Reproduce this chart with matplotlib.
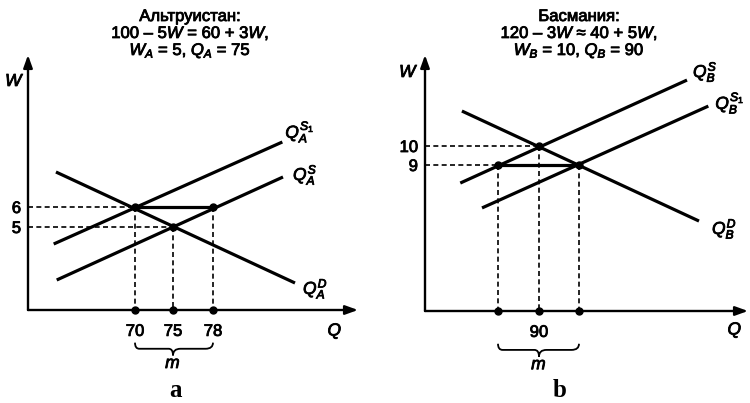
import numpy as np
import matplotlib
matplotlib.use("Agg")
import matplotlib.pyplot as plt
import matplotlib.patheffects as pe
from matplotlib.path import Path
from matplotlib.patches import PathPatch

plt.rcParams['font.family'] = ['Liberation Sans', 'DejaVu Sans']
plt.rcParams['mathtext.fontset'] = 'custom'
plt.rcParams['mathtext.it'] = 'Liberation Sans:italic'
plt.rcParams['mathtext.rm'] = 'Liberation Sans'
plt.rcParams['mathtext.bf'] = 'Liberation Sans:bold'

# ---------------- data ----------------
a_title = ["Альтруистан:", "100 – 5$W$ = 60 + 3$W$,", "$W_A$ = 5, $Q_A$ = 75"]
b_title = ["Басмания:", "120 – 3$W$ ≈ 40 + 5$W$,", "$W_B$ = 10, $Q_B$ = 90"]

a_q_ticks = [70, 75, 78]
a_q_labels = ["70", "75", "78"]
a_w_ticks = [5, 6]
a_w_labels = ["5", "6"]
a_pts_q = [70, 75, 78]
a_pts_w = [6, 5, 6]

b_q_ticks = [85, 90, 93]
b_q_labels = ["", "90", ""]
b_w_ticks = [9, 10]
b_w_labels = ["9", "10"]
b_pts_q = [85, 90, 93]
b_pts_w = [9, 10, 9]

# curve end points (Q, W) read from the schematic
a_dem_q = [59.6, 84.15];  a_dem_w = [7.75, 2.2]
a_s1_q = [59.3, 83.2];    a_s1_w = [4.15, 9.25]
a_s_q = [59.7, 83.25];    a_s_w = [2.35, 7.5]

b_dem_q = [80.6, 102.0];  b_dem_w = [11.84, 6.05]
b_s_q = [80.4, 101.1];    b_s_w = [8.05, 13.47]
b_s1_q = [83.05, 102.7];  b_s1_w = [6.74, 12.1]

a_curve_labels = [r"$Q_A^{S_1}$", r"$Q_A^{S}$", r"$Q_A^{D}$"]
b_curve_labels = [r"$Q_B^{S}$", r"$Q_B^{S_1}$", r"$Q_B^{D}$"]

# ---------------- figure ----------------
W_PX, H_PX = 750, 403
fig = plt.figure(figsize=(7.5, 4.03), dpi=100)
BOLDISH = [pe.withStroke(linewidth=0.6, foreground='black')]


def fx(x):
    return x / W_PX


def fy(y):
    return 1 - y / H_PX


def pw_scale(qk, uk):
    qk = np.asarray(qk, float)
    uk = np.asarray(uk, float)
    sl = (uk[1] - uk[0]) / (qk[1] - qk[0])
    sr = (uk[-1] - uk[-2]) / (qk[-1] - qk[-2])

    def fwd(q):
        q = np.asarray(q, float)
        u = np.interp(q, qk, uk)
        u = np.where(q < qk[0], uk[0] + (q - qk[0]) * sl, u)
        u = np.where(q > qk[-1], uk[-1] + (q - qk[-1]) * sr, u)
        return u

    def inv(u):
        u = np.asarray(u, float)
        q = np.interp(u, uk, qk)
        q = np.where(u < uk[0], qk[0] + (u - uk[0]) / sl, q)
        q = np.where(u > uk[-1], qk[-1] + (u - uk[-1]) / sr, q)
        return q

    return fwd, inv


LW = 2.3
DASH = (0, (3.0, 2.0))


def panel(rect_px, knots_px, w_px, q_ticks, q_labels, w_ticks, w_labels,
          pts_q, pts_w, curves, curve_labels, label_offsets,
          dashed_h, dashed_v, solid_seg, brace, m_q):
    x0, y_top, x1, y_bot = rect_px
    ax = fig.add_axes([fx(x0), fy(y_bot), (x1 - x0) / W_PX, (y_bot - y_top) / H_PX])
    fwd, inv = pw_scale(q_ticks, knots_px)
    ax.set_xscale('function', functions=(fwd, inv))
    ax.set_xlim(float(inv(x0)), float(inv(x1)))
    (wa, ya), (wb, yb) = w_px
    k = (wa - wb) / (ya - yb)
    ax.set_ylim(wa + (y_bot - ya) * k, wa + (y_top - ya) * k)
    ax.patch.set_alpha(0)
    for s in ax.spines.values():
        s.set_visible(False)
    ymin = ax.get_ylim()[0]
    xmin = ax.get_xlim()[0]

    # axes with arrows
    ap = dict(arrowstyle='-|>,head_length=0.75,head_width=0.27', lw=1.7,
              color='k', shrinkA=0, shrinkB=0, mutation_scale=10)
    ax.annotate('', xy=(1, 0), xytext=(0, 0), xycoords='axes fraction',
                arrowprops=ap, annotation_clip=False)
    ax.annotate('', xy=(0, 1), xytext=(0, 0), xycoords='axes fraction',
                arrowprops=ap, annotation_clip=False)

    # curves
    for (cq, cw), lab, off in zip(curves, curve_labels, label_offsets):
        ax.plot(cq, cw, color='k', lw=LW, solid_capstyle='butt', clip_on=False)
        ax.annotate(lab, xy=(cq[-1], cw[-1]), xytext=off, textcoords='offset pixels',
                    ha='left', va='center', fontsize=12.5, annotation_clip=False,
                    path_effects=BOLDISH)

    # dashed guides
    for i in dashed_h:
        ax.plot([xmin, pts_q[i]], [pts_w[i], pts_w[i]], color='k', lw=1.2, ls=DASH, clip_on=False)
    for i in dashed_v:
        ax.plot([pts_q[i], pts_q[i]], [pts_w[i], ymin], color='k', lw=1.2, ls=DASH, clip_on=False)
    i, j = solid_seg
    ax.plot([pts_q[i], pts_q[j]], [pts_w[i], pts_w[j]], color='k', lw=LW, clip_on=False)

    # points
    ax.plot(pts_q, pts_w, 'o', color='k', ms=5, clip_on=False, zorder=5)
    ax.plot(pts_q, [ymin] * len(pts_q), 'o', color='k', ms=5, clip_on=False, zorder=5)

    # ticks
    ax.set_xticks(q_ticks, q_labels)
    ax.set_yticks(w_ticks, w_labels)
    ax.tick_params(axis='x', length=0, pad=10, labelsize=12)
    ax.tick_params(axis='y', length=0, pad=5, labelsize=12)
    for t in ax.get_xticklabels() + ax.get_yticklabels():
        t.set_path_effects(BOLDISH)

    # brace
    bq0, bq1, bqm = brace
    r = 0.07 * (bq1 - bq0)
    yt, yl, ym = -0.128, -0.152, -0.178
    verts = [(bq0, yt), (bq0, yl), (bq0 + r, yl),
             (bqm - r, yl), (bqm, yl), (bqm, ym),
             (bqm, yl), (bqm + r, yl),
             (bq1 - r, yl), (bq1, yl), (bq1, yt)]
    codes = [Path.MOVETO, Path.CURVE3, Path.CURVE3,
             Path.LINETO, Path.CURVE3, Path.CURVE3,
             Path.CURVE3, Path.CURVE3,
             Path.LINETO, Path.CURVE3, Path.CURVE3]
    ax.add_patch(PathPatch(Path(verts, codes), fc='none', ec='k', lw=1.3,
                           transform=ax.get_xaxis_transform(), clip_on=False))
    ax.text(m_q, -0.21, "$m$", transform=ax.get_xaxis_transform(),
            ha='center', va='center', fontsize=12.5, path_effects=BOLDISH)
    return ax


ax_a = panel((28, 55, 358, 310), [135, 173, 213], ((6, 207), (5, 227)),
             a_q_ticks, a_q_labels, a_w_ticks, a_w_labels, a_pts_q, a_pts_w,
             [(a_s1_q, a_s1_w), (a_s_q, a_s_w), (a_dem_q, a_dem_w)],
             a_curve_labels, [(3, 10), (10, 2), (8, -6)],
             dashed_h=[0, 1], dashed_v=[0, 1, 2], solid_seg=(0, 2),
             brace=(a_q_ticks[0], a_q_ticks[2], a_q_ticks[1]), m_q=a_q_ticks[1])

ax_b = panel((425, 55, 748, 311), [498, 539, 579], ((10, 146), (9, 165)),
             b_q_ticks, b_q_labels, b_w_ticks, b_w_labels, b_pts_q, b_pts_w,
             [(b_s_q, b_s_w), (b_s1_q, b_s1_w), (b_dem_q, b_dem_w)],
             b_curve_labels, [(6, 8), (7, 3), (13, -8)],
             dashed_h=[0, 1], dashed_v=[0, 1, 2], solid_seg=(0, 2),
             brace=(b_q_ticks[0], b_q_ticks[2], b_q_ticks[1]), m_q=b_q_ticks[1])

# axis names
for (x, y, s) in [(15, 81, "$W$"), (335, 331, "$Q$"), (409, 72, "$W$"), (735, 330, "$Q$")]:
    fig.text(fx(x), fy(y), s, ha='center', va='center', fontsize=12.5,
             path_effects=BOLDISH)

# titles
for cx, lines in [(190, a_title), (579, b_title)]:
    for y, s in zip([21, 38, 55], lines):
        fig.text(fx(cx), fy(y), s, ha='center', va='baseline', fontsize=12,
                 path_effects=BOLDISH)

# panel letters
for cx, s in [(175, "a"), (560, "b")]:
    fig.text(fx(cx), fy(397), s, ha='center', va='baseline', fontsize=18,
             family='Liberation Serif', weight='bold')

fig.savefig("out.png", dpi=100)
